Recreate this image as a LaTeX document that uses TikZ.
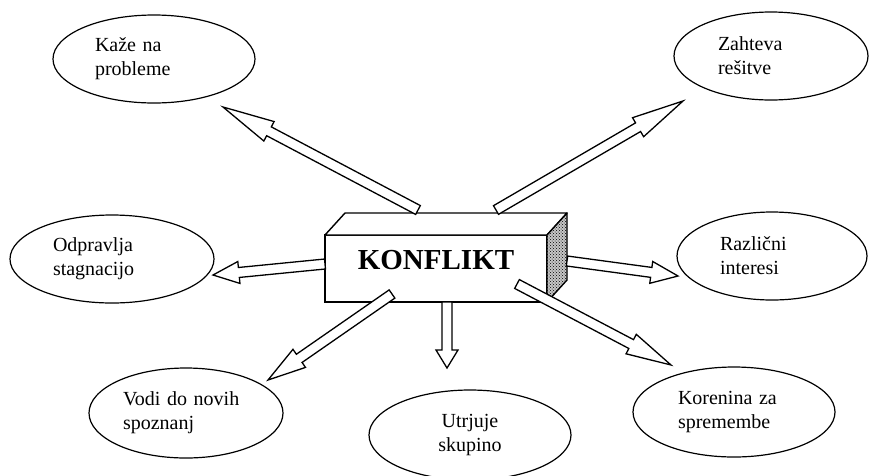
\documentclass[tikz,border=0pt]{standalone}
\usepackage{fontspec}
\setmainfont{Liberation Serif}
\usetikzlibrary{calc, shapes.geometric, patterns}

% hollow block arrow from #2 (tail) to #3 (tip), #1 = head length
\newcommand{\hollowarrow}[3][40pt]{%
  \coordinate (hb) at ($(#3)!#1!(#2)$);
  \draw[hollow] ($(#2)!5pt!90:(#3)$) -- ($(hb)!5pt!-90:(#2)$) -- ($(hb)!11pt!-90:(#2)$)
    -- (#3) -- ($(hb)!11pt!90:(#2)$) -- ($(hb)!5pt!90:(#2)$) -- ($(#2)!5pt!-90:(#3)$) -- cycle;}

\begin{document}
\begin{tikzpicture}[x=1pt, y=-1pt,
    idea/.style={ellipse, draw, line width=1.2pt, inner sep=0pt, minimum width=202pt, minimum height=88pt, align=left, font=\fontsize{20}{24}\selectfont},
    block/.style={rectangle, draw, line width=1.4pt, fill=white, minimum width=222pt, minimum height=67pt, inner sep=0pt, outer sep=0pt, font=\fontsize{29}{34}\selectfont\bfseries, text height=20pt, text depth=19pt},
    face/.style={draw, line width=1.4pt, line join=round},
    hollow/.style={draw, fill=white, line width=1.3pt, line join=miter}]
\clip (0,0) rectangle (869,475);
% ideas
\node[idea, text width=118pt] (kaze) at (154,59) {Kaže na\\probleme};
\node[idea, minimum width=194pt, text width=106pt] (zahteva) at (771,56) {Zahteva\\rešitve};
\node[idea, minimum width=204pt, text width=118pt] (odpravlja) at (112,259) {Odpravlja\\stagnacijo};
\node[idea, minimum width=190pt, text width=104pt] (razlicni) at (772,256) {Različni\\interesi};
\node[idea, minimum width=194pt, minimum height=90pt, text width=126pt] (vodi) at (186,413) {Vodi do novih\\spoznanj};
\node[idea, minimum height=90pt, align=center] (utrjuje) at (470,435) {Utrjuje\\skupino};
\node[idea, minimum height=90pt, text width=112pt] (korenina) at (734,412) {Korenina za\\spremembe};
% block
\node[block] (konflikt) at (436,268.5) {KONFLIKT};
\draw[face, fill=white] (konflikt.north west) -- ++(20,-22) -- ++(222,0) -- (konflikt.north east) -- cycle;
\draw[face, preaction={fill=gray!45}, pattern=crosshatch dots] (konflikt.north east) -- ++(20,-22) -- ++(0,67) -- (konflikt.south east) -- cycle;
% arrows
\coordinate (t1) at (418,210); \coordinate (h1) at (223,107);
\coordinate (t2) at (496,210); \coordinate (h2) at (683,101);
\coordinate (t3) at (325,264); \coordinate (h3) at (213,275);
\coordinate (t4) at (567,261); \coordinate (h4) at (678,276);
\coordinate (t5) at (392,294); \coordinate (h5) at (268,380);
\coordinate (t6) at (447,302); \coordinate (h6) at (447,368);
\coordinate (t7) at (517,284); \coordinate (h7) at (671,365);
\hollowarrow[52pt]{t1}{h1}
\hollowarrow[52pt]{t2}{h2}
\hollowarrow[26pt]{t3}{h3}
\hollowarrow[27pt]{t4}{h4}
\hollowarrow[38pt]{t5}{h5}
\hollowarrow[18pt]{t6}{h6}
\hollowarrow[45pt]{t7}{h7}
\end{tikzpicture}
\end{document}
